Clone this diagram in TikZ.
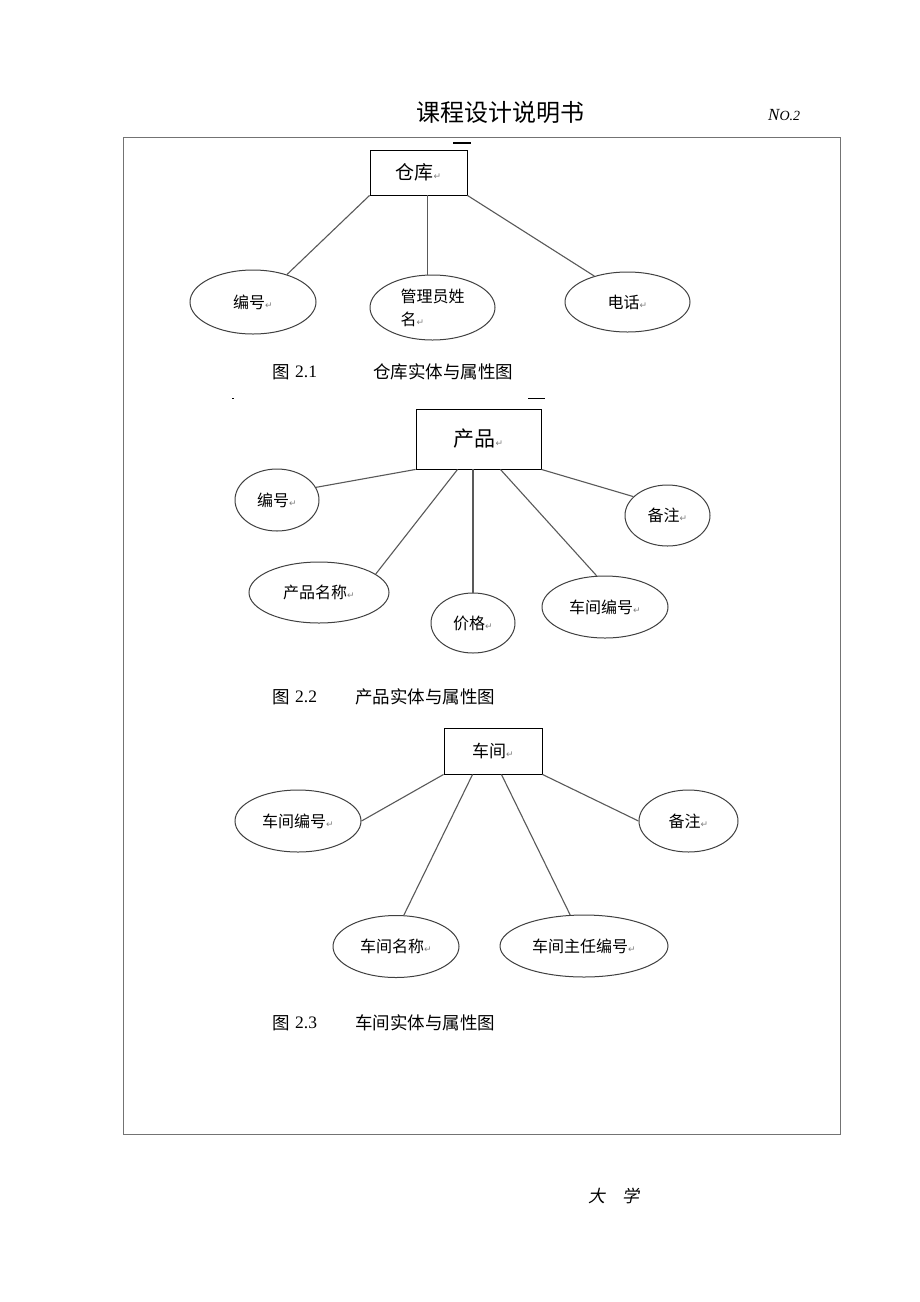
\documentclass[tikz,border=0pt]{standalone}
\usepackage{fontspec}
\setmainfont{Liberation Serif}
\newfontfamily\cjk{Noto Sans CJK SC}
\newfontfamily\cjkit[FakeSlant=0.2]{Noto Sans CJK SC}
\newfontfamily\symf{DejaVu Sans}
\usetikzlibrary{shapes.geometric,calc}
\newcommand\ret{{\symf\fontsize{9}{9}\selectfont\textcolor{gray}{↵}}}
\begin{document}
\begin{tikzpicture}[x=1pt,y=-1pt,
  ent/.style={draw=black,line width=0.9pt,rectangle,inner sep=0pt,font=\cjk\fontsize{19}{19}\selectfont},
  attr/.style={draw=black!75,line width=1pt,ellipse,inner sep=0pt,font=\cjk\fontsize{16}{16}\selectfont},
  conn/.style={draw=black!65,line width=1.1pt},
  captext/.style={anchor=west,inner sep=0pt,font=\cjk\fontsize{17.5}{17.5}\selectfont},
  capnum/.style={anchor=west,inner sep=0pt,font=\fontsize{17.5}{17.5}\selectfont}]
\useasboundingbox (0,0) rectangle (920,1302);
\fill[white] (0,0) rectangle (920,1302);

% header
\node[inner sep=0pt,font=\cjk\fontsize{24}{24}\selectfont] (title) at (500,112) {课程设计说明书};
\node[inner sep=0pt,anchor=west,font=\itshape\fontsize{17}{17}\selectfont] (no) at (768,115) {N{\fontsize{14}{14}\selectfont O.2}};
\draw[black!55,line width=1pt] (123,137) rectangle (840,1134);
\draw[black,line width=1.2pt] (453,143) -- (471,143);

% diagram 1
\node[ent,minimum width=97pt,minimum height=45pt] (b1) at (418.5,172.5) {仓库\ret};
\node[attr,minimum width=126pt,minimum height=64pt] (e11) at (253,302) {编号\ret};
\node[attr,minimum width=125pt,minimum height=65pt,align=left,font=\cjk\fontsize{16}{23}\selectfont] (e12) at (432.5,307.5) {\raisebox{-3pt}{管理员姓}\\\raisebox{-3pt}{名\ret}};
\node[attr,minimum width=125pt,minimum height=60pt] (e13) at (627.5,302) {电话\ret};
\draw[conn] (b1.south west) -- (e11.39);
\draw[conn] (e12.99 |- b1.south) -- (e12.99);
\draw[conn] (b1.south east) -- (e13.142);
\node[captext] (c1a) at (272,372) {图};
\node[capnum] (c1b) at (295,372) {2.1};
\node[captext] (c1c) at (373,372) {仓库实体与属性图};
\draw[black,line width=1pt] (232,398) -- (234,398);
\draw[black,line width=1pt] (528,398) -- (545,398);

% diagram 2
\node[ent,minimum width=125pt,minimum height=60pt,font=\cjk\fontsize{21}{21}\selectfont] (b2) at (478.5,439) {产品\ret};
\node[attr,minimum width=84pt,minimum height=62pt] (e21) at (277,500) {编号\ret};
\node[attr,minimum width=140pt,minimum height=61pt] (e22) at (319,592.5) {产品名称\ret};
\node[attr,minimum width=84pt,minimum height=60pt] (e23) at (473,623) {价格\ret};
\node[attr,minimum width=126pt,minimum height=62pt] (e24) at (605,607) {车间编号\ret};
\node[attr,minimum width=85pt,minimum height=61pt] (e25) at (667.5,515.5) {备注\ret};
\draw[conn] (b2.south west) -- (e21.18);
\draw[conn] ($(b2.south west)+(42,0)$) -- (e22.18);
\draw[conn] (e23.north |- b2.south) -- (e23.north);
\draw[conn] ($(b2.south east)+(-41,0)$) -- (e24.105);
\draw[conn] (b2.south east) -- (e25.151);
\node[captext] (c2a) at (272,697) {图};
\node[capnum] (c2b) at (295,697) {2.2};
\node[captext] (c2c) at (355,697) {产品实体与属性图};

% diagram 3
\node[ent,minimum width=98pt,minimum height=46pt,font=\cjk\fontsize{17}{17}\selectfont] (b3) at (493,751) {车间\ret};
\node[attr,minimum width=126pt,minimum height=62pt] (e31) at (298,821) {车间编号\ret};
\node[attr,minimum width=126pt,minimum height=62pt] (e32) at (396,946.5) {车间名称\ret};
\node[attr,minimum width=168pt,minimum height=62pt] (e33) at (584,946) {车间主任编号\ret};
\node[attr,minimum width=99pt,minimum height=62pt] (e34) at (688.5,821) {备注\ret};
\draw[conn] (b3.south west) -- (e31.east);
\draw[conn] ($(b3.south west)+(29,0)$) -- (e32.76);
\draw[conn] ($(b3.south east)+(-41,0)$) -- (e33.114);
\draw[conn] (b3.south east) -- (e34.west);
\node[captext] (c3a) at (272,1023) {图};
\node[capnum] (c3b) at (295,1023) {2.3};
\node[captext] (c3c) at (355,1023) {车间实体与属性图};

% footer
\node[inner sep=0pt,anchor=west,font=\cjkit\fontsize{17}{17}\selectfont] (uni) at (588,1196) {大\hspace{17pt}学};
\end{tikzpicture}
\end{document}
